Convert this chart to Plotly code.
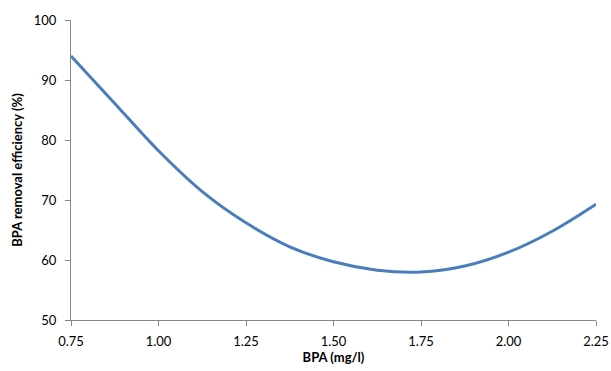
import plotly.graph_objects as go

bpa = [0.75, 0.875, 1.0, 1.125, 1.25, 1.375, 1.5, 1.625, 1.75, 1.875, 2.0, 2.125, 2.25]
efficiency = [94.0, 86.1, 78.2, 71.4, 66.2, 62.2, 59.7, 58.3, 58.0, 59.0, 61.3, 64.8, 69.3]

x_ticks = [0.75, 1.0, 1.25, 1.5, 1.75, 2.0, 2.25]
x_labels = ["0.75", "1.00", "1.25", "1.50", "1.75", "2.00", "2.25"]
y_ticks = [50, 60, 70, 80, 90, 100]

fig = go.Figure()
fig.add_trace(go.Scatter(x=bpa, y=efficiency, mode="lines",
                         line=dict(color="#4A7EBB", width=3, shape="spline", smoothing=1.0),
                         showlegend=False, hoverinfo="x+y"))

font_family = "Lato, 'Open Sans', sans-serif"
fig.update_layout(
    width=611, height=371,
    margin=dict(l=71, r=15, t=20, b=51),
    paper_bgcolor="white", plot_bgcolor="white",
    font=dict(family=font_family, size=13, color="#000000"),
    xaxis=dict(range=[0.75, 2.25], tickvals=x_ticks, ticktext=x_labels, automargin=False,
               showgrid=False, zeroline=False, showline=True, linecolor="#868686", linewidth=1,
               ticks="outside", ticklen=5, tickcolor="#868686", ticklabelstandoff=4,
               title=dict(text="<b>BPA (mg/l)</b>", font=dict(size=13), standoff=2)),
    yaxis=dict(range=[50, 100], tickvals=y_ticks, automargin=False,
               showgrid=False, zeroline=False, showline=True, linecolor="#868686", linewidth=1,
               ticks="outside", ticklen=5, tickcolor="#868686", ticklabelstandoff=6,
               title=dict(text="<b>BPA removal efficiency (%)</b>", font=dict(size=13), standoff=8)),
)

fig.write_html("out.html", config={"displayModeBar": False},
               post_script="document.body.style.margin='0';document.body.style.overflow='hidden';")
